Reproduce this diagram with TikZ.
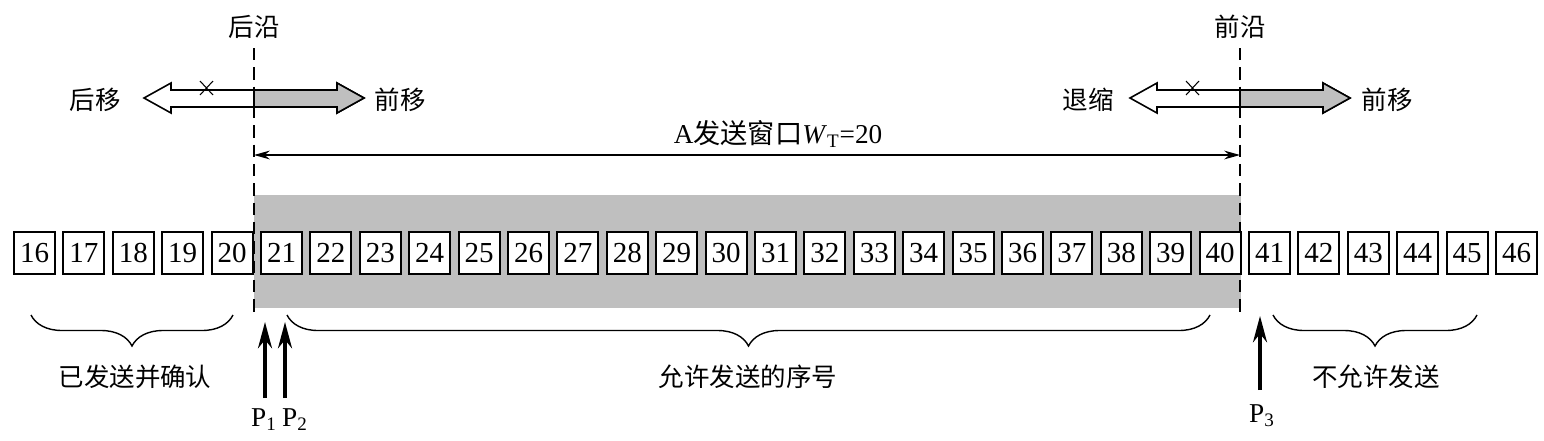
\documentclass[tikz,border=0pt]{standalone}
\usepackage{fontspec}
\setmainfont{Liberation Serif}
\newfontfamily\cjk{Noto Sans CJK SC}
\usetikzlibrary{arrows.meta,decorations.pathreplacing,positioning}

\begin{document}
\begin{tikzpicture}[x=0.02cm,y=-0.02cm,
    cell/.style={draw,fill=white,line width=1.1pt,minimum width=0.82cm,minimum height=0.84cm,inner sep=0pt,font=\fontsize{16.5}{16.5}\selectfont},
    lbl/.style={font=\cjk\fontsize{14.5}{15}\selectfont,inner sep=1pt},
    edge/.style={line width=0.9pt,dash pattern=on 7pt off 4pt},
    ptr/.style={line width=1.9pt,-{Stealth[length=15pt,width=8pt]}},
    curly/.style={line width=0.8pt,decorate,decoration={brace,mirror,amplitude=0.62cm}}]
		\useasboundingbox (0,0) rectangle (1544,440);
		% window area
		\fill[gray!50] (254,195) rectangle (1241,308);
		\coordinate (rt) at (254,48);  \coordinate (rb) at (254,312);
		\coordinate (ft) at (1240,48); \coordinate (fb) at (1240,312);
		\draw[edge] (rt) -- (rb);
		\draw[edge] (ft) -- (fb);
		\node[lbl] (rear) at (254,27) {后沿};
		\node[lbl] (front) at (1240,27) {前沿};
		% double arrows at both edges
		\foreach \e in {254,1240} {
			\filldraw[fill=white,line width=0.9pt] ({\e-110},98) -- ({\e-83},83) -- ({\e-83},90) -- ({\e+83},90) -- ({\e+83},83) -- ({\e+110},98) -- ({\e+83},113) -- ({\e+83},107) -- ({\e-83},107) -- ({\e-83},113) -- cycle;
			\filldraw[fill=gray!50,line width=0.9pt] (\e,90) -- ({\e+83},90) -- ({\e+83},83) -- ({\e+110},98) -- ({\e+83},113) -- ({\e+83},107) -- (\e,107) -- cycle;
			\draw[line width=0.6pt] ({\e-54},81) -- ({\e-41},95) ({\e-54},95) -- ({\e-41},81);
		}
		\node[lbl] (rearback) at (95,100) {后移};
		\node[lbl] (rearfwd) at (400,100) {前移};
		\node[lbl] (shrink) at (1088,100) {退缩};
		\node[lbl] (frontfwd) at (1387,100) {前移};
		% window width
		\coordinate (wl) at (254,155); \coordinate (wr) at (1240,155);
		\draw[line width=0.7pt,{Stealth[length=9pt,width=5pt]}-{Stealth[length=9pt,width=5pt]}] (wl) -- (wr);
		\node[font=\fontsize{15.5}{16}\selectfont,inner sep=1pt] (wtxt) at (778,134) {A{\cjk 发送窗口}\textit{W}\textsubscript{T}=20};
		% sequence numbers
		\foreach \n [count=\i from 0] in {16,...,46}
			\node[cell] (b\n) at ({34.5+\i*49.4},253) {\n};
		% braces
		\draw[curly] (31,315) -- (233,315);
		\draw[curly] (287,315) -- (1210,315);
		\draw[curly] (1273,315) -- (1477,315);
		\node[lbl] (acked) at (135,377) {已发送并确认};
		\node[lbl] (allowed) at (748,377) {允许发送的序号};
		\node[lbl] (denied) at (1376,377) {不允许发送};
		% pointers
		\node[font=\fontsize{15.5}{16}\selectfont,inner sep=1pt] (p1) at (264,420) {P\textsubscript{1}};
		\node[font=\fontsize{15.5}{16}\selectfont,inner sep=1pt] (p2) at (295,420) {P\textsubscript{2}};
		\node[font=\fontsize{15.5}{16}\selectfont,inner sep=1pt] (p3) at (1262,416) {P\textsubscript{3}};
		\coordinate (p1t) at (265,322); \coordinate (p2t) at (285,322); \coordinate (p3t) at (1260,316);
		\draw[ptr] (265,398) -- (p1t);
		\draw[ptr] (285,398) -- (p2t);
		\draw[ptr] (1260,390) -- (p3t);
	\end{tikzpicture}
\end{document}
